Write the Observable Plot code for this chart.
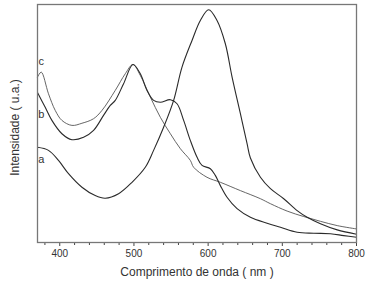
<!DOCTYPE html>
<html>
<head>
<meta charset="utf-8">
<script src="https://cdn.jsdelivr.net/npm/d3@7"></script>
<script src="https://cdn.jsdelivr.net/npm/@observablehq/plot@0.6"></script>
<style>
  html, body { margin: 0; padding: 0; background: #fff; }
</style>
</head>
<body>
<div id="chart"></div>
<script>
// Curve a
const nmA = [370, 384.8, 398.3, 411.8, 429.9, 447.8, 461.3, 479.3, 497.4, 515.3, 526.5, 540, 553.5, 564.8, 578.3, 589.5, 600.7, 612, 623.2, 632.3, 643.5, 652.5, 657, 670.5, 684, 701.9, 720, 733.5, 751.4, 774, 800];
const valA = [40.0, 38.7, 34.5, 28.9, 23.2, 19.7, 18.6, 20.5, 25.3, 31.6, 38.7, 48.4, 59.7, 73.7, 84.9, 93.3, 97.8, 93.3, 83.5, 69.5, 54.1, 41.5, 35.5, 27.4, 22.6, 18.4, 13.4, 10.6, 7.9, 5.3, 3.5];
// Curve b
const nmB = [370, 380.4, 389.4, 402.9, 416.4, 432.1, 445.6, 459, 468.1, 474.8, 486, 498.7, 508.6, 517.6, 526.5, 535.6, 549.1, 558.1, 567, 576, 585.1, 591.8, 603, 609.7, 616.5, 625.5, 639, 657, 679.5, 697.5, 720, 742.4, 764.9, 782.8, 800];
const valB = [63.0, 56.8, 51.3, 45.7, 43.2, 44.2, 47.1, 53.4, 57.6, 59.7, 66.7, 74.8, 70.9, 63.9, 59.7, 58.9, 60.0, 58.3, 51.3, 42.9, 35.8, 32.4, 31.0, 28.2, 23.9, 19.0, 14.2, 10.6, 8.1, 6.4, 4.3, 3.9, 3.7, 2.9, 2.2];
// Curve c
const nmC = [370, 375, 384.8, 393.9, 402.9, 416.4, 429.9, 445.5, 456.9, 474.8, 488.3, 498.7, 508.6, 522.1, 535.6, 549.1, 562.6, 576, 580.5, 598.5, 616.5, 643.5, 670.5, 684, 706.5, 728.9, 751.4, 774, 800];
const valC = [69.5, 71.6, 62.5, 55.5, 51.3, 49.2, 50.1, 52.0, 55.5, 63.9, 70.9, 74.8, 70.2, 61.1, 52.6, 45.7, 39.4, 34.5, 31.6, 27.4, 25.3, 21.8, 18.4, 16.3, 13.2, 10.9, 8.9, 7.1, 5.7];

const curveLabels = ["a", "b", "c"];
const curveLabelX = [375, 375, 375];
const curveLabelY = [34.9, 53.8, 76];

const majorTicks = [400, 500, 600, 700, 800];
const minorTicks = [380, 420, 440, 460, 480, 520, 540, 560, 580, 620, 640, 660, 680, 720, 740, 760, 780];

const xTitle = "Comprimento de onda ( nm )";
const yTitle = "Intensidade ( u.a.)";

const toRows = (xs, ys, s) => xs.map((x, i) => ({x, y: ys[i], s}));
const rowsA = toRows(nmA, valA, "a");
const rowsB = toRows(nmB, valB, "b");
const rowsC = toRows(nmC, valC, "c");
const labelRows = curveLabels.map((t, i) => ({t, x: curveLabelX[i], y: curveLabelY[i]}));

const chart = Plot.plot({
  width: 368,
  height: 282,
  marginLeft: 37,
  marginRight: 12,
  marginTop: 4,
  marginBottom: 40,
  style: {fontFamily: "'Liberation Sans', Arial, sans-serif", fontSize: "10px", color: "#222", background: "#fff"},
  x: {domain: [370, 800]},
  y: {domain: [0, 100], axis: null},
  marks: [
    Plot.axisX({ticks: majorTicks, tickSize: 4, tickPadding: 3, label: null, stroke: "#444", fill: "#333", fontSize: 10}),
    Plot.axisX({ticks: minorTicks, tickSize: 3, tickFormat: () => "", label: null, stroke: "#444"}),
    Plot.line(rowsC, {x: "x", y: "y", curve: "catmull-rom", stroke: "#555", strokeWidth: 0.9}),
    Plot.line(rowsB, {x: "x", y: "y", curve: "catmull-rom", stroke: "#2a2a2a", strokeWidth: 1.1}),
    Plot.line(rowsA, {x: "x", y: "y", curve: "catmull-rom", stroke: "#2a2a2a", strokeWidth: 1.1}),
    Plot.text(labelRows, {x: "x", y: "y", text: "t", fontSize: 11, fill: "#333"}),
    Plot.frame({stroke: "#777", strokeWidth: 1.3}),
    Plot.text([xTitle], {frameAnchor: "bottom", dy: 30, text: d => d, fontSize: 12, fill: "#333", lineAnchor: "middle", textAnchor: "middle"}),
    Plot.text([yTitle], {frameAnchor: "left", dx: -22, dy: 4, rotate: -90, text: d => d, fontSize: 12, fill: "#333", lineAnchor: "middle", textAnchor: "middle"})
  ]
});
document.getElementById("chart").appendChild(chart);
</script>
</body>
</html>
